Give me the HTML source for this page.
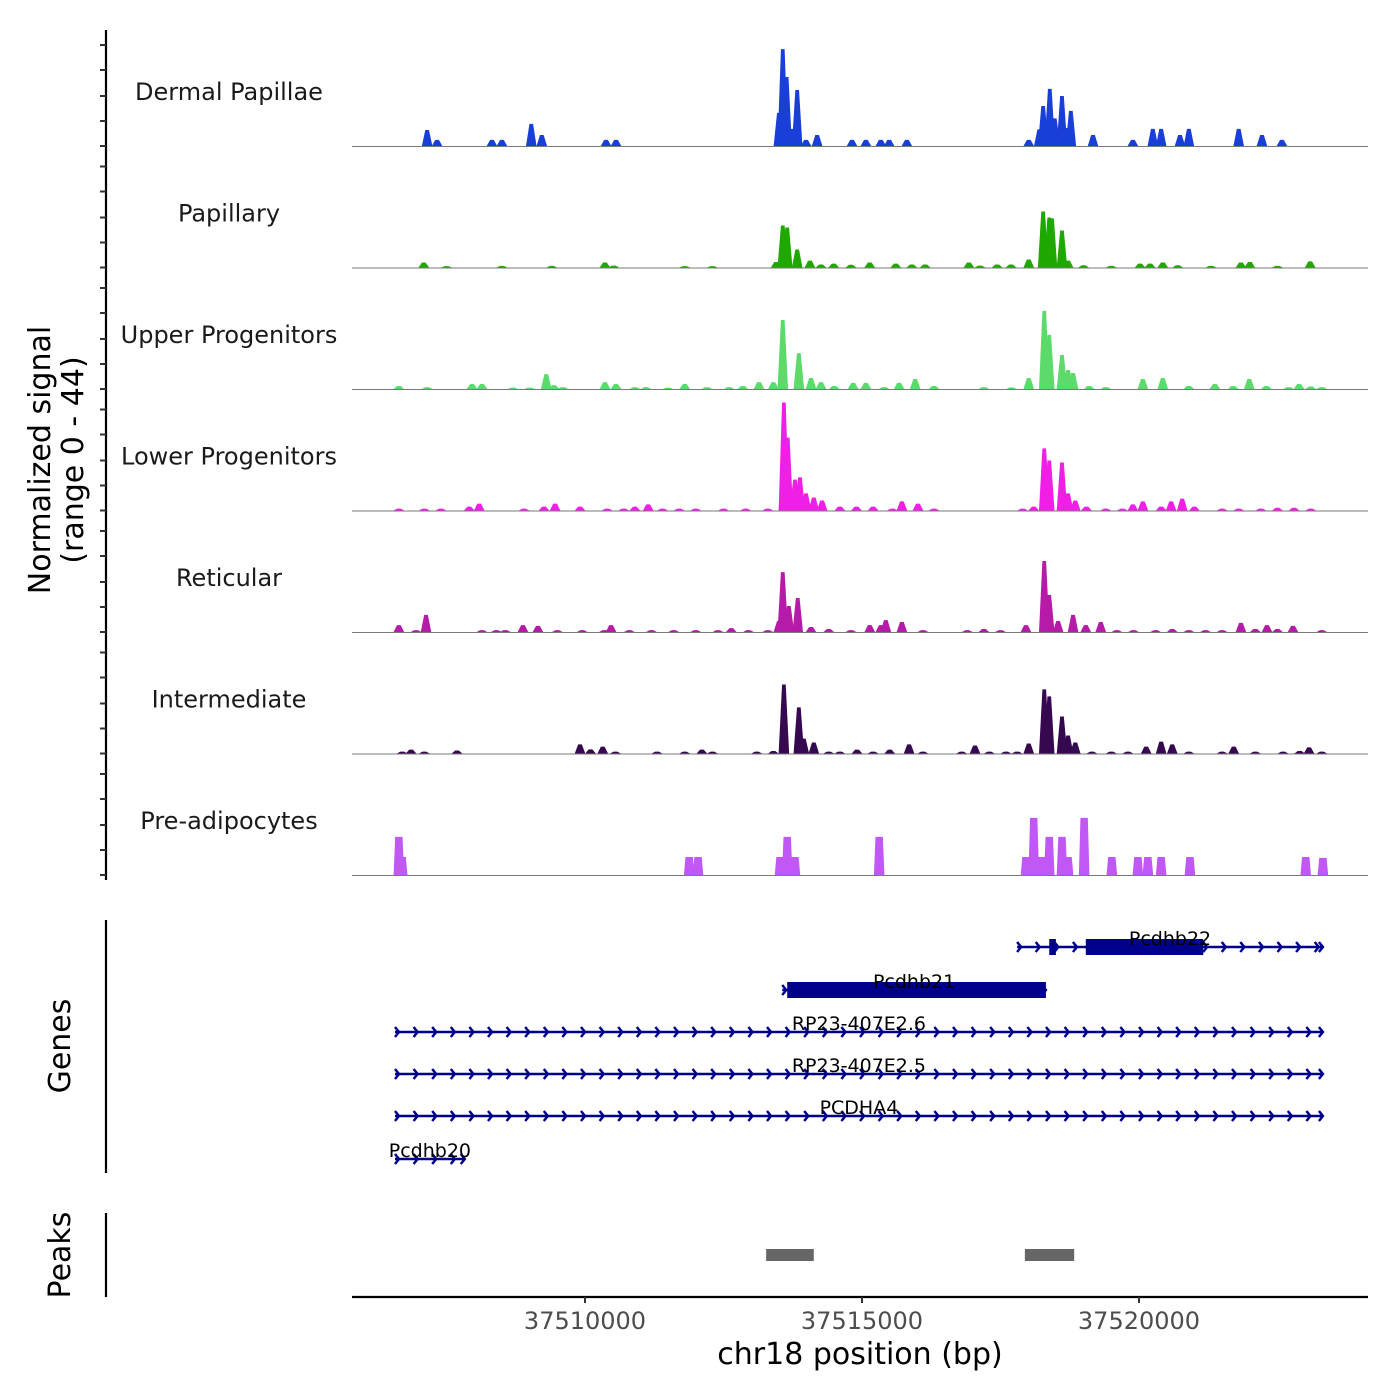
<!DOCTYPE html>
<html><head><meta charset="utf-8"><style>
html,body{margin:0;padding:0;background:#fff;}
svg{display:block;font-family:"DejaVu Sans","Liberation Sans",sans-serif;}
</style></head><body>
<svg id="chart" width="1400" height="1400" viewBox="0 0 1400 1400"></svg>
<script>
// ---- data ----
const trackNames = ["Dermal Papillae","Papillary","Upper Progenitors","Lower Progenitors","Reticular","Intermediate","Pre-adipocytes"];
const trackColors = ["#1a3fd9","#1fa800","#5cdb6a","#f01fe6","#b51aa8","#36084f","#c158f5"];
const dermalPos = [37507150,37507330,37508320,37508500,37509030,37509220,37510380,37510560,37513500,37513570,37513640,37513720,37513830,37513990,37514190,37514820,37515070,37515340,37515490,37515810,37518010,37518200,37518270,37518390,37518480,37518610,37518700,37518770,37519170,37519890,37520250,37520400,37520740,37520900,37521800,37522220,37522580];
const dermalVal = [5.8,2.2,2.2,2.2,8,4,2.2,2.2,12,35.1,25,6.2,20.3,2.2,4,2.2,2.2,2.2,2.2,2.2,2.2,6,14.5,20.7,10,18.1,6.5,12.7,4,2.2,6.2,6.2,4,6.2,6.2,4,2.2];
const papillaryPos = [37507090,37507500,37508500,37509400,37510360,37510520,37511800,37512300,37513450,37513570,37513650,37513830,37514060,37514260,37514490,37514800,37515140,37515610,37515900,37516140,37516930,37517130,37517440,37517690,37518010,37518270,37518380,37518430,37518610,37518720,37519000,37519500,37520020,37520200,37520430,37520700,37521300,37521840,37522000,37522500,37523090];
const papillaryVal = [1.8,0.5,0.6,0.6,1.8,0.7,0.5,0.5,2,15.2,14.5,6.5,2.5,1.1,1.4,1,1.8,1.4,1.1,1.1,1.8,0.7,1.1,1.1,2.9,20.3,18.1,17.8,13.4,2.5,0.8,0.6,1.4,1.4,1.8,0.8,0.6,1.8,2,0.6,2.2];
const upperPos = [37506640,37507150,37507960,37508140,37508700,37509000,37509300,37509440,37509600,37510360,37510560,37510900,37511100,37511500,37511800,37512200,37512600,37512850,37513140,37513400,37513570,37513860,37514080,37514260,37514500,37514840,37515070,37515400,37515670,37515960,37516300,37517200,37517700,37518010,37518290,37518380,37518610,37518720,37518810,37519100,37519400,37520070,37520430,37520900,37521370,37521700,37521990,37522300,37522700,37522890,37523100,37523300];
const upperVal = [1.1,0.7,1.8,1.8,0.5,0.5,5.4,1.4,0.7,2.5,1.8,0.7,0.7,0.5,1.8,0.7,0.7,1.1,2.5,2.5,25,13,4,2.5,1.1,2.2,2.2,0.7,2.2,3.6,1.1,0.7,0.6,4,28.3,19.6,12.3,6.9,5.8,1.1,0.7,3.6,4,1.1,1.8,1.1,3.6,1.1,0.7,1.8,0.9,0.7];
const lowerPos = [37506640,37507100,37507400,37507910,37508090,37508900,37509260,37509460,37509910,37510400,37510700,37510900,37511140,37511400,37511700,37512000,37512500,37512900,37513300,37513590,37513660,37513790,37513880,37513990,37514130,37514280,37514600,37514900,37515200,37515550,37515720,37516010,37516300,37517900,37518100,37518290,37518380,37518610,37518720,37518850,37519050,37519400,37519700,37519890,37520070,37520400,37520580,37520780,37521000,37521500,37521800,37522200,37522500,37522800,37523100];
const lowerVal = [0.7,0.7,0.7,1.4,2.5,0.7,1.4,2.5,1.4,0.7,0.7,1.4,2.2,0.7,0.7,0.7,0.7,0.7,0.7,39.1,26.4,11.2,12,6.2,4.7,3.6,1.4,1.4,1.4,0.7,3.3,2.5,0.7,0.7,1.4,22.5,18.1,17.4,6.2,3.6,1.4,0.7,0.7,2.2,3.3,1.4,3.3,4.3,1.4,0.7,0.7,0.7,1,1,0.7];
const reticularPos = [37506640,37506950,37507130,37508140,37508400,37508560,37508880,37509150,37509500,37509950,37510350,37510470,37510800,37511200,37511600,37512000,37512400,37512640,37512950,37513300,37513500,37513570,37513680,37513840,37514080,37514400,37514800,37515140,37515340,37515430,37515720,37516100,37516900,37517200,37517500,37517960,37518290,37518380,37518540,37518810,37519040,37519310,37519600,37519900,37520300,37520600,37520900,37521200,37521500,37521840,37522100,37522310,37522500,37522780,37523300];
const reticularVal = [2.5,0.7,6.2,0.7,0.7,0.7,2.5,2.2,0.7,0.7,0.7,2.5,0.7,0.7,0.7,0.7,0.7,1.4,0.7,0.7,4,21.7,9.4,12.3,1.8,1.1,0.7,2.5,2.5,4.3,3.6,0.7,0.7,1.1,0.7,2.5,25.7,13.4,4,6.2,2.5,3.6,0.7,0.7,0.7,1.1,0.7,0.7,0.7,3.3,1.1,2.5,1.1,2.2,0.7];
const intermediatePos = [37506700,37506860,37507100,37507690,37509910,37510100,37510320,37510550,37511300,37511800,37512110,37512300,37513100,37513400,37513590,37513860,37513950,37514130,37514400,37514600,37514910,37515200,37515500,37515850,37516100,37516800,37517040,37517300,37517600,37517800,37518010,37518290,37518380,37518610,37518720,37518850,37519150,37519500,37519800,37520130,37520400,37520600,37520900,37521500,37521710,37522100,37522600,37522900,37523070,37523300];
const intermediateVal = [0.7,1.4,0.7,1.1,3.3,1.5,2.5,0.7,0.7,0.7,1.4,0.7,0.7,0.9,25,16.7,5.4,4,0.7,0.7,1.4,0.7,1.4,3.3,0.7,0.7,2.9,0.7,0.7,0.7,3.6,23.2,20.7,13.4,6.5,4,0.7,0.7,0.7,2.5,4.3,3.3,0.7,0.7,2.5,0.7,0.7,0.9,2.2,0.7];
const preadipoPos = [37506640,37506700,37511880,37512040,37513520,37513650,37513790,37515310,37517960,37518100,37518250,37518380,37518610,37518720,37519010,37519510,37519980,37520160,37520400,37520920,37523010,37523320];
const preadipoVal = [13.8,6.5,6.5,6.5,6.5,13.8,6.5,13.8,6.5,20.7,6.5,13.8,13.8,6.5,20.7,6.5,6.5,6.5,6.5,6.5,6.5,6.2];
const trackPos = [dermalPos,papillaryPos,upperPos,lowerPos,reticularPos,intermediatePos,preadipoPos];
const trackVal = [dermalVal,papillaryVal,upperVal,lowerVal,reticularVal,intermediateVal,preadipoVal];

const geneNames = ["Pcdhb22","Pcdhb21","RP23-407E2.6","RP23-407E2.5","PCDHA4","Pcdhb20"];
const geneStarts = [37517800,37513560,37506570,37506570,37506570,37506570];
const geneEnds = [37523320,37518320,37523320,37523320,37523320,37507830];
const exonStarts = [[37518380,37519040],[37513650],[],[],[],[]];
const exonEnds = [[37518500,37521160],[37518320],[],[],[],[]];
const peakStarts = [37513270,37517940];
const peakEnds = [37514130,37518830];
const xTicks = [37510000,37515000,37520000];
const yMax = 44;

// ---- scales ----
const X0 = 352, X1 = 1368, BP0 = 37505794, BP1 = 37524134;
function xs(bp){ return X0 + (bp - BP0) / (BP1 - BP0) * (X1 - X0); }
const trackH = 121.5, firstBase = 146;
function base(i){ return firstBase + i * trackH; }
function ys(i, v){ return base(i) - v / yMax * trackH; }

const NS = "http://www.w3.org/2000/svg";
const svg = document.getElementById("chart");
function el(tag, attrs, parent){
  const e = document.createElementNS(NS, tag);
  for (const k in attrs) e.setAttribute(k, attrs[k]);
  (parent || svg).appendChild(e);
  return e;
}

// left axis for tracks
const axis = el("g", {});


el("line", {x1:106, y1:30, x2:106, y2:880, stroke:"#000", "stroke-width":2.2}, axis);
for (let i = 0; i < 7; i++) {
  [0,25,50,76,101].forEach(o => {
    el("line", {x1:100, x2:106, y1:base(i)-o, y2:base(i)-o, stroke:"#333", "stroke-width":2}, axis);
  });
}

// tracks
for (let i = 0; i < 7; i++) {
  const g = el("g", {});
  
  
  const lbl = el("text", {x:229, y:base(i)-46, "text-anchor":"middle", "font-size":24, fill:"#1a1a1a"}, g);
  lbl.textContent = trackNames[i];
  
  
  const pos = trackPos[i], val = trackVal[i];
  const hw = 95;
  for (let j = 0; j < pos.length; j++) {
    const b = base(i), top = ys(i, val[j]);
    const inner = i === 6 ? hw * 0.7 : hw * 0.35;
    const p = el("polygon", {points:
      xs(pos[j]-hw)+","+b+" "+xs(pos[j]-inner)+","+top+" "+xs(pos[j]+inner)+","+top+" "+xs(pos[j]+hw)+","+b,
      fill:trackColors[i]}, g);
    
    
  }
  el("line", {x1:X0, x2:X1, y1:base(i)+0.5, y2:base(i)+0.5, stroke:"#7a7a7a", "stroke-width":1}, g);
}

// y title
const yt = el("text", {transform:"translate(52,460) rotate(-90)", "text-anchor":"middle", "font-size":30, fill:"#000"});


const t1 = el("tspan", {x:0, dy:-2}, yt); t1.textContent = "Normalized signal";
const t2 = el("tspan", {x:0, dy:33}, yt); t2.textContent = "(range 0 - 44)";

// genes panel
const gg = el("g", {});


el("line", {x1:106, y1:920, x2:106, y2:1173, stroke:"#000", "stroke-width":2.2}, gg);
const gtitle = el("text", {transform:"translate(70,1046) rotate(-90)", "text-anchor":"middle", "font-size":30}, gg);
gtitle.textContent = "Genes";


const geneY = [947, 990, 1032, 1074, 1116, 1159];
const navy = "#00008b";
for (let i = 0; i < geneNames.length; i++) {
  const g = el("g", {}, gg);
  
  
  const y = geneY[i], xa = xs(geneStarts[i]), xb = xs(geneEnds[i]);
  el("line", {x1:xa, x2:xb, y1:y, y2:y, stroke:navy, "stroke-width":2.5}, g);
  let d = "";
  for (let x = xa + 4; x <= xb + 0.5; x += 18.6) d += "M"+(x-4)+","+(y-5)+"L"+x+","+y+"L"+(x-4)+","+(y+5);
  d += "M"+(xb-4)+","+(y-5)+"L"+xb+","+y+"L"+(xb-4)+","+(y+5);
  el("path", {d:d, stroke:navy, "stroke-width":2.5, fill:"none"}, g);
  for (let k = 0; k < exonStarts[i].length; k++) {
    const ex = el("rect", {x:xs(exonStarts[i][k]), y:y-8, width:xs(exonEnds[i][k])-xs(exonStarts[i][k]), height:16, fill:navy}, g);
    
    
  }
  const t = el("text", {x:(xa+xb)/2, y:y-2, "text-anchor":"middle", "font-size":19, fill:"#000"}, g);
  t.textContent = geneNames[i];
  
  
}

// peaks panel
const pg = el("g", {});


el("line", {x1:106, y1:1213, x2:106, y2:1297, stroke:"#000", "stroke-width":2.2}, pg);
const ptitle = el("text", {transform:"translate(70,1255) rotate(-90)", "text-anchor":"middle", "font-size":30}, pg);
ptitle.textContent = "Peaks";


for (let k = 0; k < peakStarts.length; k++) {
  const r = el("rect", {x:xs(peakStarts[k]), y:1249, width:xs(peakEnds[k])-xs(peakStarts[k]), height:12, fill:"#666"}, pg);
  
  
}

// x axis
const xg = el("g", {});


el("line", {x1:X0, x2:X1, y1:1297, y2:1297, stroke:"#000", "stroke-width":2.2}, xg);
xTicks.forEach(v => {
  el("line", {x1:xs(v), x2:xs(v), y1:1297, y2:1303, stroke:"#333", "stroke-width":2}, xg);
  const t = el("text", {x:xs(v), y:1329, "text-anchor":"middle", "font-size":24, fill:"#4d4d4d"}, xg);
  t.textContent = v;
  
  
});
const xt = el("text", {x:860, y:1364, "text-anchor":"middle", "font-size":30, fill:"#000"}, xg);
xt.textContent = "chr18 position (bp)";


</script>
</body></html>
